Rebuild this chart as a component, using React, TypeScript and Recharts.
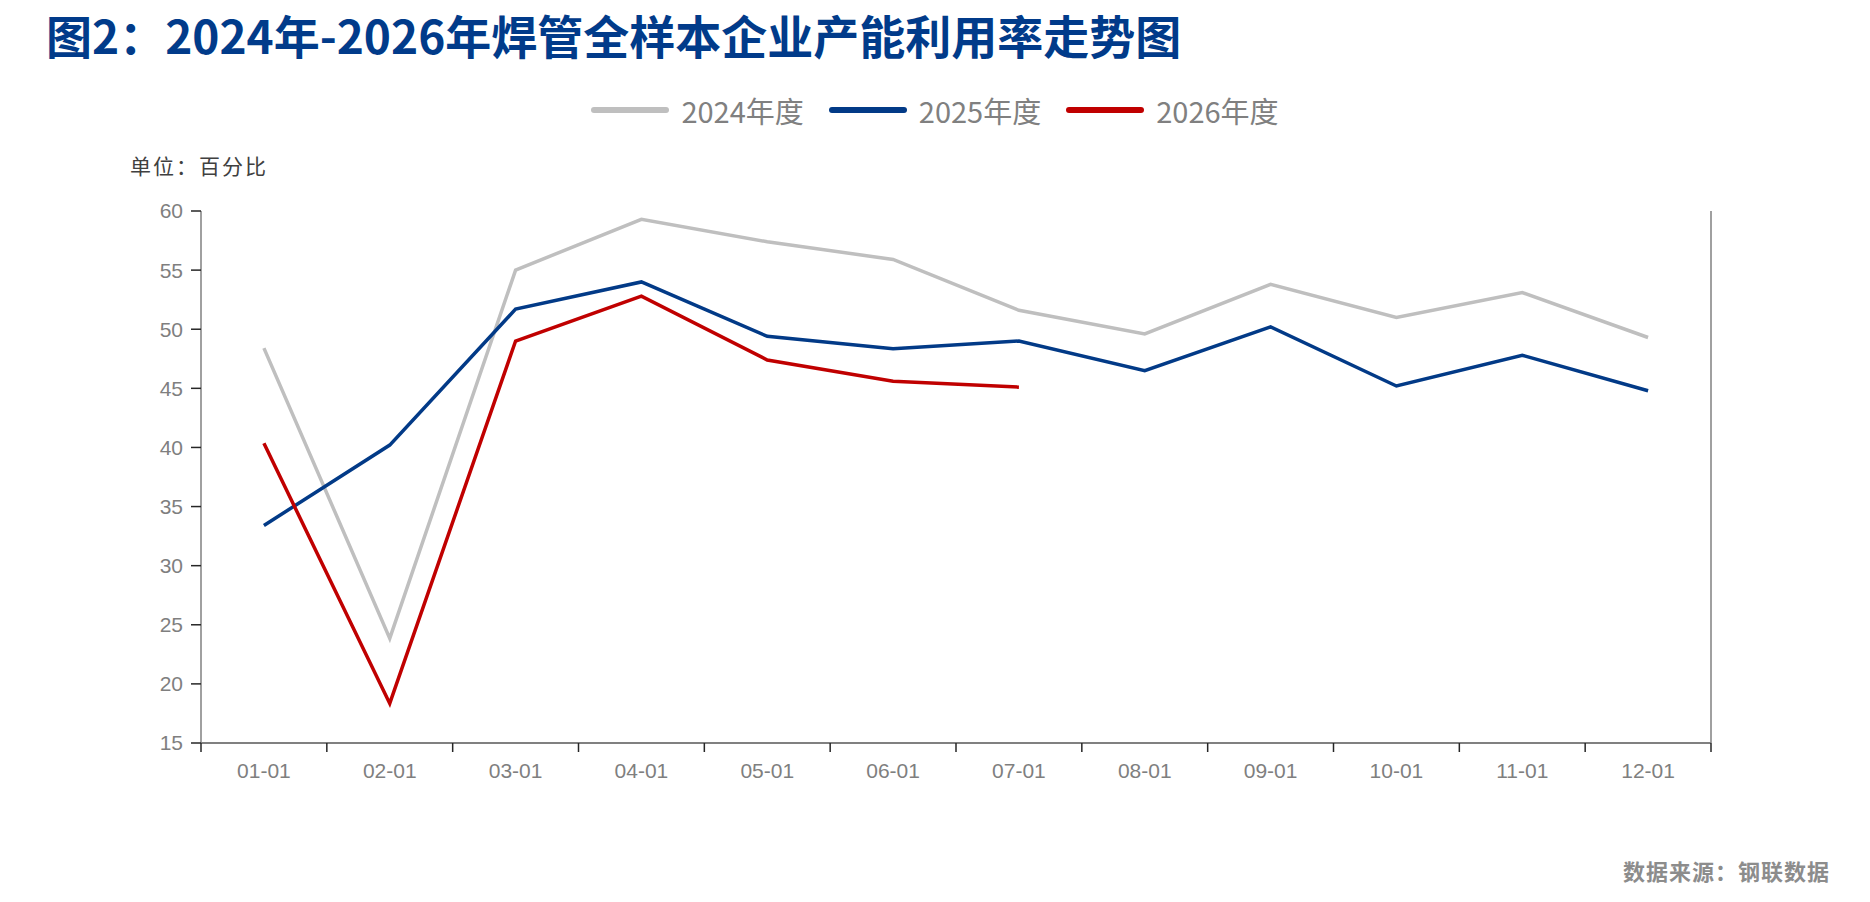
import React from "react";
import { LineChart, Line, XAxis, YAxis } from "recharts";

const MONTHS = [
  "01-01",
  "02-01",
  "03-01",
  "04-01",
  "05-01",
  "06-01",
  "07-01",
  "08-01",
  "09-01",
  "10-01",
  "11-01",
  "12-01",
];

const VALUES_2024 = [48.4, 23.85, 55.0, 59.3, 57.4, 55.9, 51.6, 49.6, 53.8, 51.0, 53.1, 49.3];
const VALUES_2025 = [33.4, 40.2, 51.7, 54.0, 49.4, 48.35, 49.0, 46.5, 50.2, 45.2, 47.8, 44.8];
const VALUES_2026 = [40.35, 18.35, 49.0, 52.8, 47.4, 45.6, 45.1];

const Y_TICKS = [15, 20, 25, 30, 35, 40, 45, 50, 55, 60];

const SERIES = [
  { key: "y2024", name: "2024年度", color: "#BFBFBF" },
  { key: "y2025", name: "2025年度", color: "#023A87" },
  { key: "y2026", name: "2026年度", color: "#C00000" },
];

const data = MONTHS.map((month, i) => ({
  month,
  y2024: VALUES_2024[i],
  y2025: VALUES_2025[i],
  y2026: i < VALUES_2026.length ? VALUES_2026[i] : null,
}));

const CJK = '"Noto Sans CJK SC", "Noto Sans", sans-serif';
const LATIN = '"Liberation Sans", Arial, sans-serif';

const X_TICK_SIZE = 9;
const X_TICK_GAP = 11;

// labels sit in the middle of each band, tick marks on the band edges
function MonthTick(props: any) {
  const { x, y, payload, index, visibleTicksCount, width } = props;
  const band = visibleTicksCount ? Number(width) / visibleTicksCount : 0;
  const top = y - X_TICK_SIZE - X_TICK_GAP;
  const left = x - band / 2;
  const right = x + band / 2;
  return (
    <g>
      <line x1={left} x2={left} y1={top} y2={top + X_TICK_SIZE} stroke="#262626" strokeWidth={1.5} />
      {index === visibleTicksCount - 1 && (
        <line x1={right} x2={right} y1={top} y2={top + X_TICK_SIZE} stroke="#262626" strokeWidth={1.5} />
      )}
      <text
        x={x}
        y={y}
        dy="0.71em"
        textAnchor="middle"
        fill="#7F7F7F"
        fontSize={21}
        fontFamily={LATIN}
      >
        {payload.value}
      </text>
    </g>
  );
}

export default function App() {
  return (
    <div
      style={{
        position: "absolute",
        left: 0,
        top: 0,
        width: 1870,
        height: 902,
        background: "#FFFFFF",
        overflow: "hidden",
      }}
    >
      <div
        style={{
          position: "absolute",
          left: 46,
          top: 11,
          fontFamily: CJK,
          fontWeight: 700,
          fontSize: 46,
          lineHeight: "46px",
          color: "#013B8A",
          whiteSpace: "nowrap",
        }}
      >
        图2：2024年-2026年焊管全样本企业产能利用率走势图
      </div>

      <div
        style={{
          position: "absolute",
          left: 0,
          top: 92,
          width: 1870,
          height: 36,
          display: "flex",
          justifyContent: "center",
          alignItems: "center",
          gap: 25,
          fontFamily: CJK,
          fontSize: 29,
          color: "#808080",
        }}
      >
        {SERIES.map((s) => (
          <div key={s.key} style={{ display: "flex", alignItems: "center", gap: 12 }}>
            <span
              style={{
                display: "inline-block",
                width: 78,
                height: 6,
                borderRadius: 3,
                background: s.color,
              }}
            />
            <span style={{ lineHeight: "36px" }}>{s.name}</span>
          </div>
        ))}
      </div>

      <div
        style={{
          position: "absolute",
          left: 130,
          top: 155,
          fontFamily: CJK,
          fontSize: 21,
          lineHeight: "21px",
          letterSpacing: 2,
          color: "#404040",
          whiteSpace: "nowrap",
        }}
      >
        单位：百分比
      </div>

      <LineChart
        width={1870}
        height={902}
        data={data}
        margin={{ top: 211, right: 158, bottom: 119, left: 0 }}
      >
        <XAxis
          dataKey="month"
          scale="band"
          interval={0}
          height={40}
          tickSize={X_TICK_SIZE}
          tickMargin={X_TICK_GAP}
          tickLine={false}
          axisLine={{ stroke: "#808080", strokeWidth: 2 }}
          tick={<MonthTick />}
        />
        <YAxis
          yAxisId="left"
          width={201}
          domain={[15, 60]}
          ticks={Y_TICKS}
          interval={0}
          tickSize={10}
          tickMargin={8}
          axisLine={{ stroke: "#808080", strokeWidth: 1.5 }}
          tickLine={{ stroke: "#262626", strokeWidth: 1.5 }}
          tick={{ fill: "#7F7F7F", fontSize: 21, fontFamily: LATIN }}
        />
        <YAxis
          yAxisId="right"
          orientation="right"
          width={1}
          domain={[15, 60]}
          tick={false}
          tickLine={false}
          axisLine={{ stroke: "#808080", strokeWidth: 1.5 }}
        />
        {SERIES.map((s) => (
          <Line
            key={s.key}
            yAxisId="left"
            type="linear"
            dataKey={s.key}
            name={s.name}
            stroke={s.color}
            strokeWidth={3.5}
            dot={false}
            activeDot={false}
            isAnimationActive={false}
          />
        ))}
      </LineChart>

      <div
        style={{
          position: "absolute",
          right: 40,
          top: 858,
          fontFamily: CJK,
          fontWeight: 700,
          fontSize: 22,
          lineHeight: "24px",
          letterSpacing: 1,
          color: "#8C8C8C",
          whiteSpace: "nowrap",
        }}
      >
        数据来源：钢联数据
      </div>
    </div>
  );
}
